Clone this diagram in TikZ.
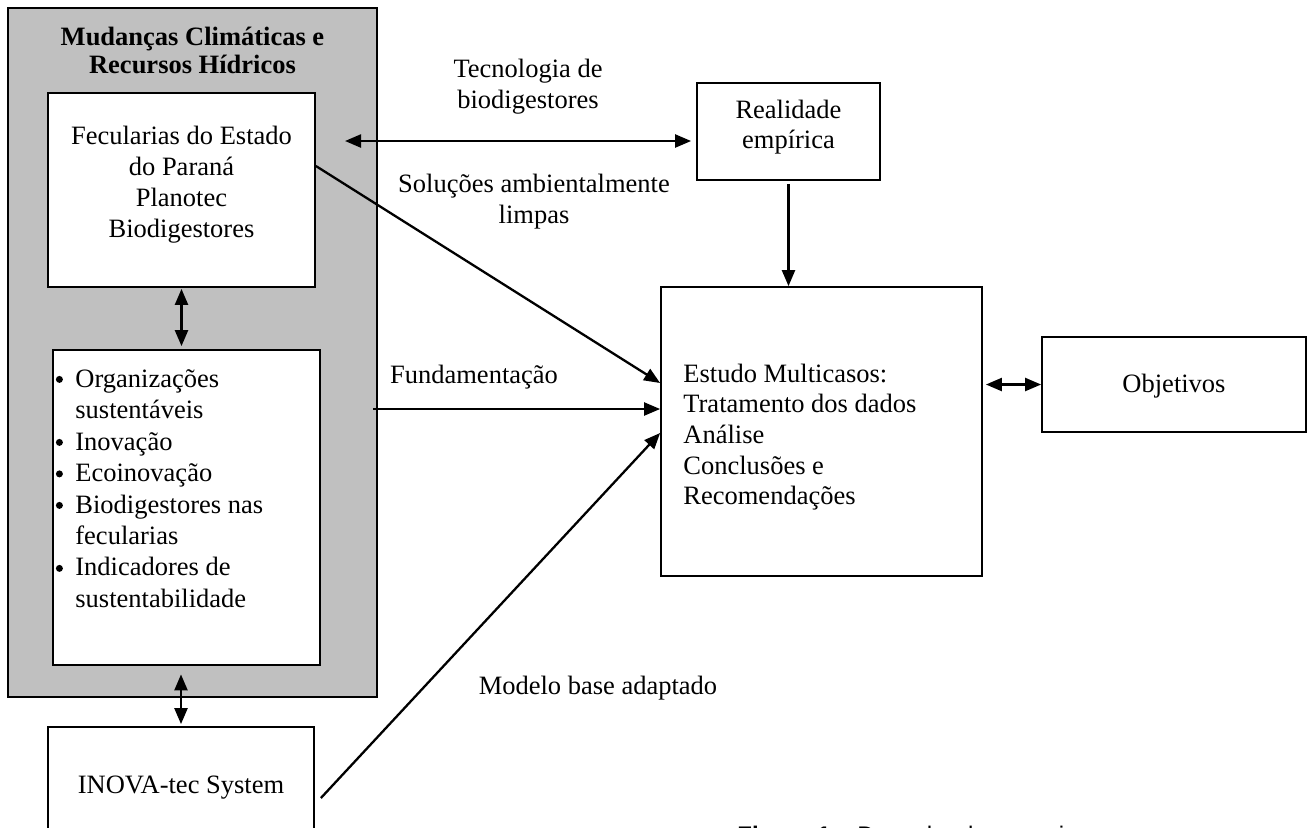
\documentclass[tikz,border=0pt]{standalone}
\usepackage{fontspec}
\setmainfont{Liberation Serif}
\newfontfamily\capfont{Liberation Sans}
\usetikzlibrary{arrows.meta}
\definecolor{painel}{HTML}{C0C0C0}
% list bullet: a round dot at mid letter height, then the item text
\newcommand{\dotitem}{\makebox[10.5pt][l]{\hspace*{0.75pt}\tikz[baseline=0pt]\fill (0,3.8pt) circle (1.75pt);}}

\begin{document}
\begin{tikzpicture}[x=0.5pt,y=-0.5pt,
  font=\fontsize{13.25}{15.5}\selectfont,
  box/.style={draw=black, line width=0.9pt, fill=white, inner sep=0pt},
  txt/.style={inner sep=0pt, anchor=base},
  tip/.style={-{head}, line width=1.15pt},
  dbl/.style={{head}-{head}, line width=1.15pt}]
\tikzset{head/.tip={Triangle[length=8pt,width=6.5pt]}}
\useasboundingbox (0,0) rectangle (1311,827);
\begin{scope}
\clip (0,0) rectangle (1311,827);

% grey panel with its two inner boxes
\node[draw=black, line width=1.4pt, fill=painel, inner sep=0pt,
      minimum width=184.5pt, minimum height=344.5pt] (clima) at (192.5,352.5) {};
\node[txt] (titulo) at (192.5,45)
  {\bfseries\def\arraystretch{0.93}\begin{tabular}[t]{@{}c@{}}Mudanças Climáticas e\\Recursos Hídricos\end{tabular}};

\node[box, minimum width=133.5pt, minimum height=97pt] (fec) at (181.5,190) {};
\node[txt] (fectxt) at (181.5,144)
  {\begin{tabular}[t]{@{}c@{}}Fecularias do Estado\\do Paraná\\Planotec\\Biodigestores\end{tabular}};

\node[box, minimum width=133.5pt, minimum height=157.5pt] (bul) at (186.5,507.5) {};
\node[txt, anchor=base west] (bultxt) at (54,387)
  {\def\arraystretch{1.016}\begin{tabular}[t]{@{}l@{}}
   \dotitem Organizações\\
   \hspace*{10.5pt}sustentáveis\\
   \dotitem Inovação\\
   \dotitem Ecoinovação\\
   \dotitem Biodigestores nas\\
   \hspace*{10.5pt}fecularias\\
   \dotitem Indicadores de\\
   \hspace*{10.5pt}sustentabilidade
   \end{tabular}};

% box below the panel
\node[box, minimum width=133pt, minimum height=56pt] (inova) at (181,783) {};
\node[txt] (inovatxt) at (181,793) {INOVA-tec System};

% right-hand boxes
\node[box, minimum width=91.5pt, minimum height=48.5pt] (real) at (788.5,131.5) {};
\node[txt] (realtxt) at (788.5,118)
  {\def\arraystretch{0.97}\begin{tabular}[t]{@{}c@{}}Realidade\\empírica\end{tabular}};

\node[box, minimum width=160.5pt, minimum height=144.5pt] (estudo) at (821.5,431.5) {};
\node[txt, anchor=base west] (estudotxt) at (683,382)
  {\def\arraystretch{0.99}\begin{tabular}[t]{@{}l@{}}Estudo Multicasos:\\Tratamento dos dados\\Análise\\Conclusões e\\Recomendações\end{tabular}};

\node[box, minimum width=132pt, minimum height=47.5pt] (obj) at (1174,384.5) {};
\node[txt] (objtxt) at (1174,392) {Objetivos};

% connector labels
\node[txt] (ltec) at (528,77)
  {\begin{tabular}[t]{@{}c@{}}Tecnologia de\\biodigestores\end{tabular}};
\node[txt] (lsol) at (534,192)
  {\begin{tabular}[t]{@{}c@{}}Soluções ambientalmente\\limpas\end{tabular}};
\node[txt] (lfund) at (474,383) {Fundamentação};
\node[txt] (lmod) at (598,694) {Modelo base adaptado};

% connectors
\coordinate (tecL) at (345,141);
\draw[dbl, shorten >=2.5pt] (tecL) -- (tecL -| real.west);
\draw[dbl, shorten <=0.5pt, shorten >=1.5pt] (fec.south) -- (fec.south |- bul.north);
\draw[dbl, shorten <=-12pt, shorten >=1pt] (inova.north |- clima.south) -- (inova.north);
\draw[tip] ([yshift=12pt]fec.east) -- ([yshift=24.25pt]estudo.west);
\draw[tip] ([xshift=-2.5pt,yshift=11.25pt]estudo.west -| clima.east) -- ([yshift=11.25pt]estudo.west);
\draw[tip] ([xshift=3pt,yshift=-7.5pt]inova.east) -- ([yshift=-0.75pt]estudo.west);
\draw[tip, shorten <=1.5pt] (real.south) -- (real.south |- estudo.north);
\draw[dbl, shorten <=1.5pt] (estudo.east |- obj.west) -- (obj.west);

% caption, cut by the lower edge
\node[txt, anchor=base west] (legenda) at (737,843)
  {\capfont\fontsize{12}{14}\selectfont\textbf{Figura 1} – Desenho da pesquisa};
\end{scope}
\end{tikzpicture}
\end{document}
